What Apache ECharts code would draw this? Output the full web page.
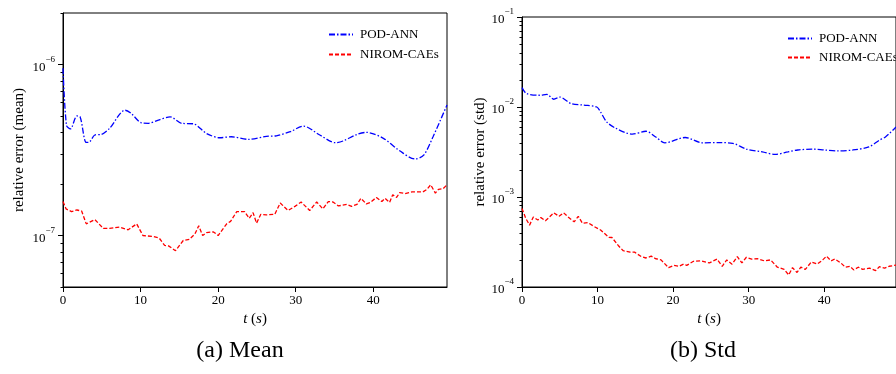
<!DOCTYPE html>
<html>
<head>
<meta charset="utf-8">
<script src="https://cdn.jsdelivr.net/npm/echarts@6/dist/echarts.min.js"></script>
<style>
  html, body { margin: 0; padding: 0; background: #fff; }
  #chart { width: 896px; height: 374px; }
</style>
</head>
<body>
<div id="chart"></div>
<script>
// Values (t in seconds, relative error).
const meanPodT = [0, 0.45, 0.95, 1.8, 2.2, 3.0, 3.45, 4.1, 4.95, 6.0, 8.0, 8.8, 10.1, 11.0, 12.3, 13.8, 15.3, 16.8, 18.5, 20.2, 21.7, 23.9, 26.2, 27.5, 29.3, 31.0, 33.1, 35.1, 36.1, 37.9, 39.1, 41.3, 43.4, 45.4, 46.5, 47.7, 49.5];
const meanPodVal = [9.5e-7, 4.4e-7, 4.2e-7, 5.0e-7, 4.95e-7, 3.5e-7, 3.53e-7, 3.87e-7, 3.9e-7, 4.23e-7, 5.4e-7, 5.17e-7, 4.56e-7, 4.53e-7, 4.73e-7, 4.94e-7, 4.53e-7, 4.5e-7, 3.95e-7, 3.73e-7, 3.78e-7, 3.65e-7, 3.8e-7, 3.83e-7, 4.05e-7, 4.36e-7, 3.87e-7, 3.49e-7, 3.57e-7, 3.9e-7, 4.01e-7, 3.7e-7, 3.13e-7, 2.8e-7, 2.95e-7, 3.78e-7, 5.8e-7];

const meanCaeT = [0, 0.4, 1.1, 1.8, 2.4, 3.0, 4.1, 5.2, 6.0, 7.3, 8.4, 9.5, 10.3, 11.6, 12.4, 13.1, 13.6, 14.5, 15.5, 16.3, 17.0, 17.5, 18.0, 18.5, 19.4, 20.0, 21.1, 21.6, 22.4, 23.4, 24.0, 24.5, 24.95, 25.5, 26.2, 27.3, 28.0, 29.0, 29.9, 30.7, 31.8, 32.7, 33.5, 34.2, 34.8, 35.5, 36.6, 37.2, 37.9, 38.4, 39.1, 39.6, 40.4, 41.1, 41.5, 42.1, 42.5, 43.0, 43.4, 44.1, 45.0, 46.4, 46.9, 47.4, 48.0, 48.4, 49.0, 49.5];
const meanCaeVal = [1.58e-7, 1.43e-7, 1.38e-7, 1.41e-7, 1.39e-7, 1.17e-7, 1.24e-7, 1.1e-7, 1.1e-7, 1.12e-7, 1.08e-7, 1.17e-7, 1.0e-7, 9.87e-8, 9.66e-8, 8.75e-8, 8.7e-8, 8.15e-8, 9.35e-8, 9.5e-8, 1.02e-7, 1.14e-7, 1.0e-7, 1.04e-7, 1.05e-7, 1.0e-7, 1.17e-7, 1.21e-7, 1.38e-7, 1.38e-7, 1.26e-7, 1.36e-7, 1.18e-7, 1.33e-7, 1.32e-7, 1.33e-7, 1.55e-7, 1.4e-7, 1.48e-7, 1.57e-7, 1.4e-7, 1.57e-7, 1.43e-7, 1.58e-7, 1.57e-7, 1.49e-7, 1.52e-7, 1.48e-7, 1.52e-7, 1.65e-7, 1.53e-7, 1.56e-7, 1.67e-7, 1.58e-7, 1.65e-7, 1.56e-7, 1.73e-7, 1.67e-7, 1.78e-7, 1.76e-7, 1.8e-7, 1.8e-7, 1.86e-7, 1.98e-7, 1.77e-7, 1.86e-7, 1.88e-7, 1.98e-7];

const stdPodT = [0, 0.6, 2.3, 3.3, 4.2, 5.0, 6.5, 8.2, 9.9, 10.4, 11.2, 12.3, 14.6, 16.4, 17.7, 18.9, 21.6, 23.9, 26.2, 27.9, 29.7, 31.8, 33.5, 35.2, 36.5, 38.5, 40.0, 41.9, 43.8, 45.9, 47.3, 48.1, 49.5];
const stdPodVal = [1.64e-2, 1.41e-2, 1.35e-2, 1.38e-2, 1.22e-2, 1.29e-2, 1.09e-2, 1.05e-2, 1.0e-2, 8.8e-3, 6.84e-3, 5.87e-3, 4.99e-3, 5.38e-3, 4.64e-3, 4.0e-3, 4.58e-3, 4.0e-3, 4.02e-3, 3.95e-3, 3.4e-3, 3.17e-3, 2.97e-3, 3.17e-3, 3.33e-3, 3.4e-3, 3.33e-3, 3.25e-3, 3.33e-3, 3.6e-3, 4.28e-3, 4.64e-3, 6.0e-3];

const stdCaeT = [0, 0.5, 1.0, 1.5, 2.1, 2.5, 3.1, 3.6, 4.2, 4.9, 5.5, 6.1, 6.9, 7.45, 8.0, 8.7, 9.6, 10.4, 11.5, 11.9, 12.8, 13.4, 14.3, 14.9, 15.8, 16.4, 17.1, 17.7, 18.4, 19.4, 20.1, 20.8, 21.4, 21.8, 22.7, 23.7, 24.8, 25.8, 26.5, 27.1, 27.8, 28.5, 29.1, 29.7, 30.4, 31.2, 32.1, 32.9, 33.8, 34.7, 35.3, 35.8, 36.4, 36.9, 37.5, 38.3, 39.1, 39.8, 40.3, 40.9, 41.4, 42.2, 42.8, 43.4, 43.9, 44.5, 45.1, 46.0, 46.8, 47.3, 48.0, 48.6, 49.5];
const stdCaeVal = [7.47e-4, 5.78e-4, 4.87e-4, 6.0e-4, 5.55e-4, 5.9e-4, 5.45e-4, 5.95e-4, 6.68e-4, 6.1e-4, 6.68e-4, 6.0e-4, 5.3e-4, 6.1e-4, 5.1e-4, 5.2e-4, 4.67e-4, 4.3e-4, 3.56e-4, 3.55e-4, 2.85e-4, 2.53e-4, 2.44e-4, 2.44e-4, 2.17e-4, 2.1e-4, 2.2e-4, 2.06e-4, 2.0e-4, 1.64e-4, 1.74e-4, 1.7e-4, 1.8e-4, 1.74e-4, 1.93e-4, 1.95e-4, 1.85e-4, 2.04e-4, 1.7e-4, 2.0e-4, 1.79e-4, 2.17e-4, 1.85e-4, 2.14e-4, 2.04e-4, 2.06e-4, 1.95e-4, 2.0e-4, 1.66e-4, 1.57e-4, 1.36e-4, 1.64e-4, 1.45e-4, 1.66e-4, 1.57e-4, 1.9e-4, 1.8e-4, 2.0e-4, 2.2e-4, 1.95e-4, 2.05e-4, 1.85e-4, 1.66e-4, 1.7e-4, 1.55e-4, 1.66e-4, 1.57e-4, 1.62e-4, 1.52e-4, 1.68e-4, 1.62e-4, 1.7e-4, 1.75e-4];

const xTicks = [0, 10, 20, 30, 40];
const meanRange = [5e-8, 2e-6];
const stdRange = [1e-4, 1e-1];

const FONT = '"Liberation Serif", "DejaVu Serif", serif';
const BLUE = '#0000ff';
const RED = '#ff0000';

// y axes are value axes over log10(value); ticks placed like matplotlib's log locator
const lg = (v) => Math.log10(v);
const pairs = (ts, vs) => ts.map((t, i) => [t, lg(vs[i])]);

function decades(range) {
  const out = [];
  for (let e = Math.ceil(lg(range[0]) - 1e-9); e <= Math.floor(lg(range[1]) + 1e-9); e++) out.push(e);
  return out;
}
function minors(range) {
  const out = [];
  for (let e = Math.floor(lg(range[0])) - 1; e <= Math.ceil(lg(range[1])); e++) {
    for (let k = 2; k <= 9; k++) {
      const v = lg(k) + e;
      if (v >= lg(range[0]) - 1e-9 && v <= lg(range[1]) + 1e-9) out.push(v);
    }
  }
  return out;
}

const powLabel = (v) => '{b|10}{s|\u2212' + Math.abs(Math.round(v)) + '}';

function yMajor(grid, range, name, nameGap) {
  return {
    type: 'value', gridIndex: grid, position: 'left', min: lg(range[0]), max: lg(range[1]),
    name: name, nameLocation: 'middle', nameGap: nameGap,
    nameTextStyle: { fontFamily: FONT, fontSize: 15, color: '#000' },
    axisLine: { show: true, lineStyle: { color: '#000', width: 1 } },
    axisTick: { show: true, length: 5, customValues: decades(range), lineStyle: { color: '#000' } },
    axisLabel: {
      customValues: decades(range), margin: 8, color: '#000', formatter: powLabel,
      rich: {
        b: { fontFamily: FONT, fontSize: 13, color: '#000', padding: [6, 0, 0, 0] },
        s: { fontFamily: FONT, fontSize: 9, color: '#000', verticalAlign: 'top' }
      }
    },
    splitLine: { show: false }
  };
}
function yMinor(grid, range) {
  return {
    type: 'value', gridIndex: grid, position: 'left', offset: 0, min: lg(range[0]), max: lg(range[1]),
    axisLine: { show: false },
    axisTick: { show: true, length: 2.5, customValues: minors(range), lineStyle: { color: '#000' } },
    axisLabel: { show: false },
    splitLine: { show: false }
  };
}
function xAxis(grid) {
  return {
    type: 'value', gridIndex: grid, min: 0, max: 49.5,
    name: '{i|t} ({i|s})', nameLocation: 'middle', nameGap: 24,
    nameTextStyle: {
      fontFamily: FONT, fontSize: 15, color: '#000',
      rich: { i: { fontFamily: FONT, fontSize: 15, fontStyle: 'italic', color: '#000' } }
    },
    axisLine: { show: true, onZero: false, lineStyle: { color: '#000', width: 1 } },
    axisTick: { show: true, length: 5, customValues: xTicks, lineStyle: { color: '#000' } },
    axisLabel: { customValues: xTicks, margin: 7, fontFamily: FONT, fontSize: 13, color: '#000' },
    splitLine: { show: false }
  };
}
function line(name, xi, yi, data, color, dash, smooth) {
  return {
    name: name, type: 'line', xAxisIndex: xi, yAxisIndex: yi, data: data,
    symbol: 'none', smooth: smooth, animation: false,
    lineStyle: { color: color, width: 1.3, type: dash },
    itemStyle: { color: color }
  };
}
const DASHDOT = [6, 2, 1.5, 2];
const DASHED = [4, 2];

function legend(left, top, gap) {
  return {
    orient: 'vertical', left: left, top: top, itemWidth: 24, itemHeight: 12, itemGap: gap,
    data: ['POD-ANN', 'NIROM-CAEs'],
    itemStyle: { opacity: 0 },
    textStyle: { fontFamily: FONT, fontSize: 13, color: '#000', padding: [0, 0, 0, 2] }
  };
}

const chart = echarts.init(document.getElementById('chart'), null, { renderer: 'canvas' });
chart.setOption({
  animation: false,
  backgroundColor: '#fff',
  grid: [
    { left: 63, top: 13, width: 384, height: 274, show: true, borderColor: '#000', borderWidth: 1, backgroundColor: 'transparent' },
    { left: 522, top: 17, width: 385, height: 270, show: true, borderColor: '#000', borderWidth: 1, backgroundColor: 'transparent' }
  ],
  xAxis: [xAxis(0), xAxis(1)],
  yAxis: [
    yMajor(0, meanRange, 'relative error (mean)', 36),
    yMinor(0, meanRange),
    yMajor(1, stdRange, 'relative error (std)', 34),
    yMinor(1, stdRange)
  ],
  legend: [legend(323, 23, 7), legend(782, 27, 6)],
  series: [
    line('POD-ANN', 0, 0, pairs(meanPodT, meanPodVal), BLUE, DASHDOT, 0.3),
    line('NIROM-CAEs', 0, 0, pairs(meanCaeT, meanCaeVal), RED, DASHED, false),
    line('POD-ANN', 1, 2, pairs(stdPodT, stdPodVal), BLUE, DASHDOT, 0.3),
    line('NIROM-CAEs', 1, 2, pairs(stdCaeT, stdCaeVal), RED, DASHED, false)
  ],
  graphic: [
    { type: 'text', x: 240, y: 351, style: { text: '(a) Mean', font: '24px ' + FONT, fill: '#000', textAlign: 'center', textVerticalAlign: 'middle' } },
    { type: 'text', x: 703, y: 351, style: { text: '(b) Std', font: '24px ' + FONT, fill: '#000', textAlign: 'center', textVerticalAlign: 'middle' } }
  ]
});
</script>
</body>
</html>
